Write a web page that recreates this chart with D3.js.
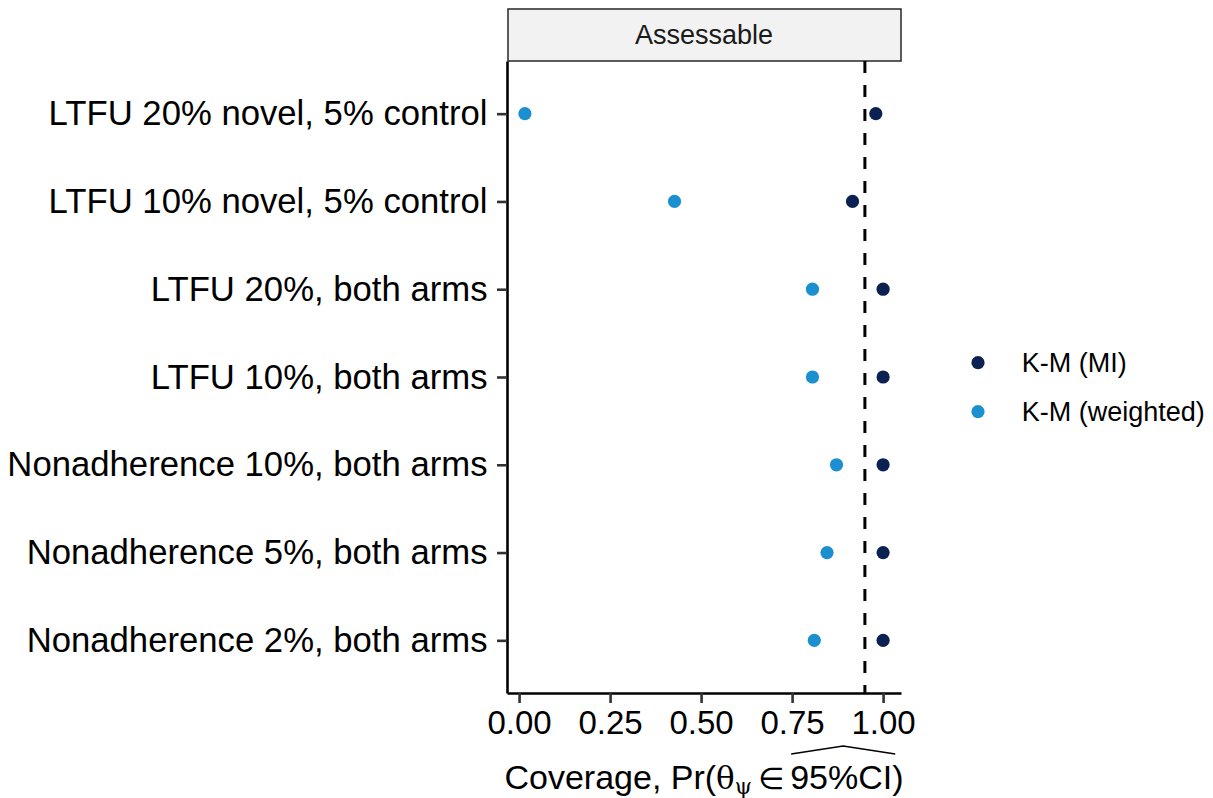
<!DOCTYPE html>
<html>
<head>
<meta charset="utf-8">
<script src="https://cdn.jsdelivr.net/npm/d3@7"></script>
<style>
  body { margin: 0; background: #fff; }
  text { font-family: "Liberation Sans", Arial, Helvetica, sans-serif; }
</style>
</head>
<body>
<svg id="chart" width="1213" height="798"></svg>
<script>
// Scenarios (top to bottom) and coverage of each estimator
const categories = [
  "LTFU 20% novel, 5% control",
  "LTFU 10% novel, 5% control",
  "LTFU 20%, both arms",
  "LTFU 10%, both arms",
  "Nonadherence 10%, both arms",
  "Nonadherence 5%, both arms",
  "Nonadherence 2%, both arms"
];
const seriesNames = ["K-M (MI)", "K-M (weighted)"];
const seriesColors = ["#0b2151", "#1c8fd0"];
const kmMI       = [0.980, 0.916, 1.000, 1.000, 1.000, 1.000, 1.000];
const kmWeighted = [0.016, 0.427, 0.806, 0.806, 0.872, 0.846, 0.811];
const xTicks = [0, 0.25, 0.5, 0.75, 1];
const nominalLevel = 0.95;
const facetLabel = "Assessable";

const svg = d3.select("#chart");

// Panel geometry
const panel = { left: 507, right: 901, top: 61, bottom: 693 };
const strip = { top: 9, bottom: 61 };

// x domain: data range expanded by 5% on each side
const allValues = kmMI.concat(kmWeighted);
const [vmin, vmax] = d3.extent(allValues);
const pad = (vmax - vmin) * 0.05;
const x = d3.scaleLinear().domain([vmin - pad, vmax + pad]).range([panel.left, panel.right]);
const y = d3.scalePoint().domain(categories).range([panel.top, panel.bottom]).padding(0.6);

// Facet strip
svg.append("rect")
  .attr("x", panel.left + 1).attr("y", strip.top)
  .attr("width", panel.right - panel.left - 1).attr("height", strip.bottom - strip.top)
  .attr("fill", "#f2f2f2").attr("stroke", "#333").attr("stroke-width", 1.6);
svg.append("text")
  .attr("x", (panel.left + panel.right) / 2).attr("y", (strip.top + strip.bottom) / 2)
  .attr("dy", "0.35em").attr("text-anchor", "middle")
  .attr("font-size", 27).attr("fill", "#1a1a1a")
  .text(facetLabel);

// Reference line at the nominal coverage
svg.append("line")
  .attr("x1", x(nominalLevel)).attr("x2", x(nominalLevel))
  .attr("y1", panel.top).attr("y2", panel.bottom)
  .attr("stroke", "#000").attr("stroke-width", 3)
  .attr("stroke-dasharray", "12,12");

// Points
const series = [kmMI, kmWeighted];
series.forEach((vals, si) => {
  svg.append("g").selectAll("circle")
    .data(vals)
    .join("circle")
    .attr("cx", d => x(d))
    .attr("cy", (d, i) => y(categories[i]))
    .attr("r", 6.6)
    .attr("fill", seriesColors[si]);
});

// Axes
const xAxis = svg.append("g")
  .attr("transform", `translate(0,${panel.bottom})`)
  .call(d3.axisBottom(x).tickValues(xTicks).tickFormat(d3.format(".2f"))
    .tickSize(10).tickSizeOuter(0).tickPadding(8));
const yAxis = svg.append("g")
  .attr("transform", `translate(${panel.left},0)`)
  .call(d3.axisLeft(y).tickSize(10).tickSizeOuter(0).tickPadding(9.5));

[xAxis, yAxis].forEach(g => {
  g.select(".domain").attr("stroke", "#000").attr("stroke-width", 2.6);
  g.selectAll(".tick line").attr("stroke", "#333").attr("stroke-width", 2.6);
  g.selectAll(".tick text").attr("fill", "#000")
    .style("font-family", '"Liberation Sans", Arial, Helvetica, sans-serif');
});
xAxis.selectAll(".tick text").attr("font-size", 33);
yAxis.selectAll(".tick text").attr("font-size", 34.7);

// x-axis title: Coverage, Pr(θ_ψ ∈ widehat(95%CI))
const titleBaseline = 789;
const sans = '"Liberation Sans", Arial, Helvetica, sans-serif';
const serif = '"DejaVu Serif", "Liberation Serif", serif';
const pieces = [
  { t: "Coverage, Pr(", f: sans, s: 34, dy: 0 },
  { t: "\u03B8", f: serif, s: 31, dy: 0 },
  { t: "\u03C8", f: serif, s: 22, dy: 5 },
  { t: "\u2009\u2208\u2009", f: '"DejaVu Sans", sans-serif', s: 30, dy: 0 },
  { t: "95%CI", f: sans, s: 34, dy: 0, hat: true },
  { t: ")", f: sans, s: 34, dy: 0 }
];
const titleG = svg.append("g");
const nodes = pieces.map(p => titleG.append("text")
  .attr("y", titleBaseline + p.dy)
  .attr("font-size", p.s).attr("fill", "#000")
  .style("font-family", p.f)
  .text(p.t));
const widths = nodes.map(n => n.node().getComputedTextLength());
const total = d3.sum(widths);
let cx = (panel.left + panel.right) / 2 - total / 2;
nodes.forEach((n, i) => {
  n.attr("x", cx);
  if (pieces[i].hat) {
    const x0 = cx + 1, x1 = cx + widths[i] + 3;
    titleG.append("path")
      .attr("d", `M${x0},${titleBaseline - 35} L${(x0 + x1) / 2},${titleBaseline - 43} L${x1},${titleBaseline - 35}`)
      .attr("fill", "none").attr("stroke", "#000").attr("stroke-width", 1.6);
  }
  cx += widths[i];
});

// Legend
const legend = svg.append("g");
const legendY = [362.7, 411.7];
seriesNames.forEach((name, i) => {
  legend.append("circle")
    .attr("cx", 978).attr("cy", legendY[i]).attr("r", 6.6)
    .attr("fill", seriesColors[i]);
  legend.append("text")
    .attr("x", 1021.7).attr("y", legendY[i]).attr("dy", "0.35em")
    .attr("font-size", 27).attr("fill", "#000")
    .text(name);
});
</script>
</body>
</html>
